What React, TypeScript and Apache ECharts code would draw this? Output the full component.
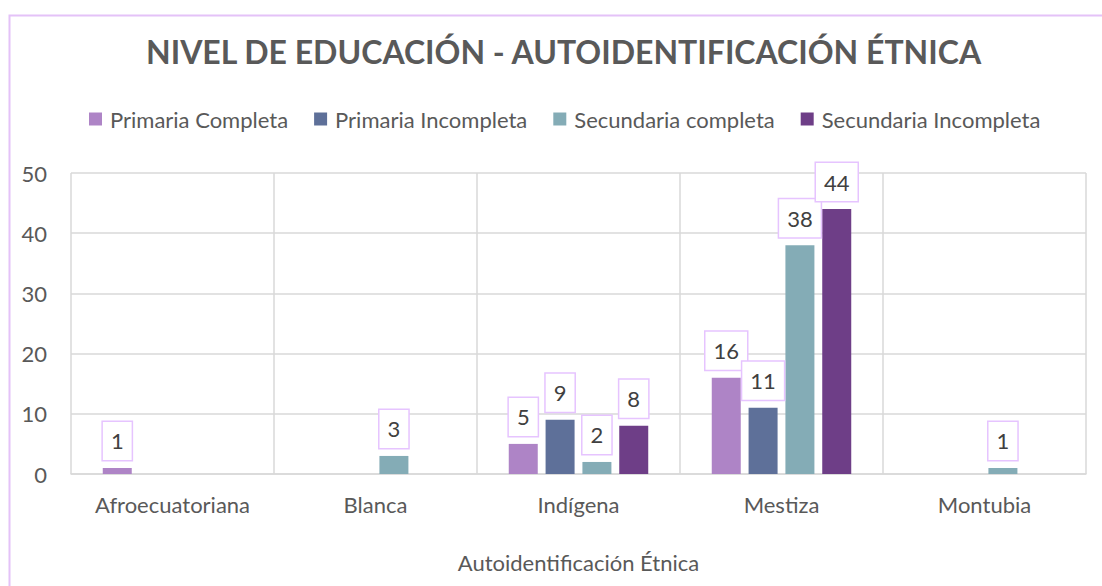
import React, { useEffect, useRef } from "react";
import * as echarts from "echarts";

const categories = ["Afroecuatoriana", "Blanca", "Indígena", "Mestiza", "Montubia"];
const seriesNames = ["Primaria Completa", "Primaria Incompleta", "Secundaria completa", "Secundaria Incompleta"];
const primariaCompleta = [1, null, 5, 16, null];
const primariaIncompleta = [null, null, 9, 11, null];
const secundariaCompleta = [null, 3, 2, 38, 1];
const secundariaIncompleta = [null, null, 8, 44, null];
const colors = ["#AE84C6", "#5E7099", "#84ACB6", "#6E3E87"];

const FONT = "Lato";
const TEXT = "#595959";

export default function App() {
  const ref = useRef<HTMLDivElement>(null);
  useEffect(() => {
    if (!ref.current) return;
    const chart = echarts.init(ref.current, undefined, { renderer: "svg" });
    const values = [primariaCompleta, primariaIncompleta, secundariaCompleta, secundariaIncompleta];
    chart.setOption({
      animation: false,
      backgroundColor: "#FFFFFF",
      textStyle: { fontFamily: FONT },
      graphic: [
        {
          type: "rect",
          left: 7,
          top: 13,
          shape: { width: 1200, height: 700 },
          style: { fill: "none", stroke: "#E4C2F8", lineWidth: 2 },
          silent: true,
        },
      ],
      title: {
        text: "NIVEL DE EDUCACIÓN - AUTOIDENTIFICACIÓN ÉTNICA",
        left: 141,
        top: 30,
        textStyle: { fontFamily: FONT, fontSize: 32, fontWeight: "bold", color: TEXT },
      },
      legend: {
        top: 103,
        left: 84,
        icon: "rect",
        itemWidth: 13,
        itemHeight: 13,
        itemGap: 26,
        data: seriesNames,
        textStyle: { fontFamily: FONT, fontSize: 22, color: TEXT, padding: [0, 0, 0, 3] },
      },
      grid: { left: 71, right: 16, top: 173, bottom: 112 },
      xAxis: {
        type: "category",
        data: categories,
        name: "Autoidentificación Étnica",
        nameLocation: "middle",
        nameGap: 77,
        nameTextStyle: { fontFamily: FONT, fontSize: 22, color: TEXT },
        axisLine: { lineStyle: { color: "#D9D9D9", width: 1.5 } },
        axisTick: { show: false },
        splitLine: { show: true, lineStyle: { color: "#D9D9D9", width: 1.5 } },
        axisLabel: { fontFamily: FONT, fontSize: 22, color: TEXT, margin: 19 },
      },
      yAxis: {
        type: "value",
        min: 0,
        max: 50,
        interval: 10,
        axisLine: { show: false },
        axisTick: { show: false },
        splitLine: { lineStyle: { color: "#D9D9D9", width: 1.5 } },
        axisLabel: { fontFamily: FONT, fontSize: 22, color: TEXT, margin: 24 },
      },
      series: seriesNames.map((name, i) => ({
        name,
        type: "bar",
        data: values[i],
        barWidth: 29,
        barGap: "27%",
        itemStyle: { color: colors[i] },
        label: {
          show: true,
          position: "top",
          distance: 8,
          fontFamily: FONT,
          fontSize: 22,
          lineHeight: 22,
          color: "#404040",
          padding: [8, 8, 8, 8],
          backgroundColor: "#FFFFFF",
          borderColor: "#E6C4FF",
          borderWidth: 1.5,
        },
      })),
    });
    return () => chart.dispose();
  }, []);
  return (
    <div
      ref={ref}
      style={{ position: "fixed", left: 0, top: 0, width: 1102, height: 586 }}
    />
  );
}
